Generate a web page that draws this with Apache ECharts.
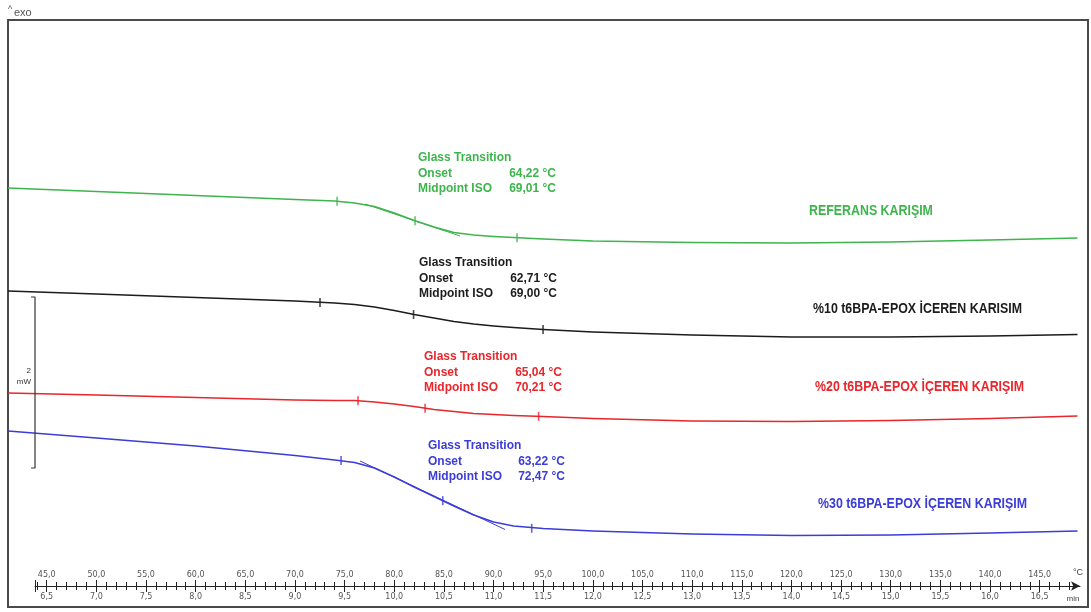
<!DOCTYPE html>
<html>
<head>
<meta charset="utf-8">
<script src="https://cdn.jsdelivr.net/npm/echarts@6/dist/echarts.min.js"></script>
<style>
  html, body { margin: 0; padding: 0; background: #fff; }
  #c { width: 1091px; height: 612px; }
</style>
</head>
<body>
<div id="c"></div>
<script>
// Program temperature (°C) at which the DSC curves are sampled
const temps = [41.1, 50, 60, 70, 74, 76, 78, 80, 82, 84, 86, 88, 90, 92, 95, 100, 110, 120, 130, 140, 148.8];

// Heat flow (mW, curves stacked with offsets)
const refFlow   = [4.655, 4.614, 4.567, 4.520, 4.503, 4.480, 4.439, 4.363, 4.275, 4.199, 4.135, 4.105, 4.088, 4.076, 4.058, 4.035, 4.018, 4.012, 4.023, 4.047, 4.070];
const pct10Flow = [3.450, 3.415, 3.374, 3.333, 3.310, 3.292, 3.263, 3.222, 3.175, 3.135, 3.094, 3.064, 3.041, 3.023, 3.000, 2.971, 2.936, 2.912, 2.912, 2.924, 2.942];
const pct20Flow = [2.257, 2.234, 2.205, 2.175, 2.170, 2.170, 2.152, 2.129, 2.099, 2.064, 2.041, 2.018, 2.006, 1.994, 1.982, 1.959, 1.930, 1.924, 1.936, 1.959, 1.988];
const pct30Flow = [1.813, 1.731, 1.637, 1.526, 1.474, 1.444, 1.380, 1.275, 1.158, 1.047, 0.936, 0.830, 0.749, 0.702, 0.673, 0.643, 0.608, 0.591, 0.596, 0.620, 0.643];

// Evaluation marks (onset, midpoint, end) on each curve: program temperature and heat flow
const refMarkT   = [74.24, 82.09, 92.36];
const refMarkV   = [4.500, 4.272, 4.074];
const pct10MarkT = [72.52, 81.94, 94.98];
const pct10MarkV = [3.316, 3.175, 3.000];
const pct20MarkT = [76.35, 83.10, 94.53];
const pct20MarkV = [2.168, 2.080, 1.984];
const pct30MarkT = [74.64, 84.88, 93.84];
const pct30MarkV = [1.468, 0.998, 0.675];

// Inflection tangents of the glass transition step
const refTangentT   = [77.05, 86.62];
const refTangentV   = [4.468, 4.094];
const pct30TangentT = [76.55, 91.15];
const pct30TangentV = [1.462, 0.661];

// Glass transition results [onset, midpoint ISO] in °C
const refTg   = [64.22, 69.01];
const pct10Tg = [62.71, 69.00];
const pct20Tg = [65.04, 70.21];
const pct30Tg = [63.22, 72.47];

const curveNames = ['REFERANS KARIŞIM', '%10 t6BPA-EPOX İCEREN KARISIM', '%20 t6BPA-EPOX İÇEREN KARIŞIM', '%30 t6BPA-EPOX İÇEREN KARIŞIM'];

// Temperature ruler: labelled every 5 °C, small ticks every 1 °C; heating rate 10 K/min
const labelTemps = [45, 50, 55, 60, 65, 70, 75, 80, 85, 90, 95, 100, 105, 110, 115, 120, 125, 130, 135, 140, 145];
const minorTemps = [];
for (let t = 44; t <= 148; t++) minorTemps.push(t);
const startMinute = 6.5;   // time at 45 °C
const heatingRate = 10;    // K/min

const GREEN = '#3db54c', BLACK = '#1c1c1c', RED = '#e8262b', BLUE = '#3c3cd8';
const comma = (v, d) => v.toFixed(d).replace('.', ',');

const pairs = (xs, ys) => xs.map((x, i) => [x, ys[i]]);

function curve(name, flow, color) {
  return {
    name, type: 'line', xAxisIndex: 0, yAxisIndex: 0,
    data: pairs(temps, flow), showSymbol: false, smooth: false,
    lineStyle: { color, width: 1.6, join: 'round' }, silent: true, z: 3
  };
}
function marks(ts, vs, color) {
  return {
    type: 'scatter', xAxisIndex: 0, yAxisIndex: 0, data: pairs(ts, vs),
    symbol: 'rect', symbolSize: [1.6, 9], itemStyle: { color }, silent: true, z: 4
  };
}
function tangent(ts, vs, color) {
  return {
    type: 'line', xAxisIndex: 0, yAxisIndex: 0, data: pairs(ts, vs), showSymbol: false,
    lineStyle: { color, width: 1 }, silent: true, z: 2
  };
}

// 2 mW scale bracket at the ruler start
const bracketT = [43.42, 43.82];
const bracketV = [3.38, 1.38];

const TXT = '"Liberation Sans", Arial, sans-serif';

function txt(text, x, y, color, font, align, scaleX) {
  return {
    type: 'text', x, y, silent: true, scaleX: scaleX || 1,
    style: { text, fill: color, font, align: align || 'left', verticalAlign: 'middle',
             textAlign: align || 'left', textVerticalAlign: 'middle' }
  };
}
function tgBlock(x, y0, valRight, color, tg) {
  const f = 'bold 12px ' + TXT;
  return [
    txt('Glass Transition', x, y0, color, f),
    txt('Onset', x, y0 + 15.5, color, f),
    txt('Midpoint ISO', x, y0 + 31, color, f),
    txt(comma(tg[0], 2) + ' °C', valRight, y0 + 15.5, color, f, 'right'),
    txt(comma(tg[1], 2) + ' °C', valRight, y0 + 31, color, f, 'right')
  ];
}

// curve names use a narrowed bold face
const nameFont = 'bold 14px ' + TXT;
const NARROW_SCALE = 0.885;
const graphics = [
  { type: 'rect', shape: { x: 8, y: 20, width: 1080, height: 587 }, silent: true,
    style: { fill: 'none', stroke: '#4a4a4a', lineWidth: 2 } },
  txt('^', 8, 10, '#555', '9px ' + TXT),
  txt('exo', 14, 13, '#555', '11px ' + TXT),
  txt('2', 31, 371, '#333', '8px ' + TXT, 'right'),
  txt('mW', 31, 382, '#333', '8px ' + TXT, 'right'),
  txt('°C', 1078, 573, '#444', '9px ' + TXT, 'center'),
  txt('min', 1073, 599, '#444', '8px ' + TXT, 'center'),
  ...tgBlock(418, 158, 556, GREEN, refTg),
  ...tgBlock(419, 263, 557, BLACK, pct10Tg),
  ...tgBlock(424, 357, 562, RED, pct20Tg),
  ...tgBlock(428, 446, 565, BLUE, pct30Tg),
  txt(curveNames[0], 809, 211, GREEN, nameFont, 'left', NARROW_SCALE),
  txt(curveNames[1], 813, 309, BLACK, nameFont, 'left', NARROW_SCALE),
  txt(curveNames[2], 815, 387, RED, nameFont, 'left', NARROW_SCALE),
  txt(curveNames[3], 818, 504, BLUE, nameFont, 'left', NARROW_SCALE)
];

const RULER_MIN = 43.82, RULER_MAX = 149.06;
const rulerLabel = { fontSize: 8, color: '#555', fontFamily: 'Tahoma, "DejaVu Sans", sans-serif' };

function rulerAxis(position, tickValues, tickLen, labels) {
  return {
    type: 'value', gridIndex: 1, position, min: RULER_MIN, max: RULER_MAX,
    axisLine: { show: false },
    splitLine: { show: false },
    axisTick: { show: true, customValues: tickValues, length: tickLen, lineStyle: { color: '#222', width: 1 } },
    axisLabel: labels ? Object.assign({ show: true, customValues: labelTemps, margin: 7 }, rulerLabel, labels)
                      : { show: false }
  };
}

const option = {
  animation: false,
  backgroundColor: '#fff',
  grid: [
    { left: 8, right: 13, top: 20, bottom: 26 },
    { left: 35, right: 11, top: 586, height: 0 }
  ],
  xAxis: [
    { type: 'value', gridIndex: 0, min: 41.1, max: 148.85, show: false },
    Object.assign(rulerAxis('top', [RULER_MIN].concat(labelTemps), 6, { formatter: v => comma(v, 1) }), {
      axisLine: { show: true, symbol: ['none', 'arrow'], symbolSize: [7, 9], lineStyle: { color: '#222', width: 1 } }
    }),
    rulerAxis('bottom', [RULER_MIN].concat(labelTemps), 6,
      { formatter: v => comma(startMinute + (v - 45) / heatingRate, 1) }),
    rulerAxis('top', minorTemps, 4, null),
    rulerAxis('bottom', minorTemps, 4, null)
  ],
  yAxis: [
    { type: 'value', gridIndex: 0, min: 0, max: 6.62, show: false },
    { type: 'value', gridIndex: 1, min: 0, max: 1, show: false }
  ],
  series: [
    curve(curveNames[0], refFlow, GREEN),
    curve(curveNames[1], pct10Flow, BLACK),
    curve(curveNames[2], pct20Flow, RED),
    curve(curveNames[3], pct30Flow, BLUE),
    tangent(refTangentT, refTangentV, GREEN),
    tangent(pct30TangentT, pct30TangentV, BLUE),
    marks(refMarkT, refMarkV, GREEN),
    marks(pct10MarkT, pct10MarkV, BLACK),
    marks(pct20MarkT, pct20MarkV, RED),
    marks(pct30MarkT, pct30MarkV, BLUE),
    {
      type: 'line', xAxisIndex: 0, yAxisIndex: 0, showSymbol: false, silent: true,
      data: [[bracketT[0], bracketV[0]], [bracketT[1], bracketV[0]], [bracketT[1], bracketV[1]], [bracketT[0], bracketV[1]]],
      lineStyle: { color: '#333', width: 1.2 }
    }
  ],
  graphic: { elements: graphics }
};

const chart = echarts.init(document.getElementById('c'));
chart.setOption(option);
</script>
</body>
</html>
